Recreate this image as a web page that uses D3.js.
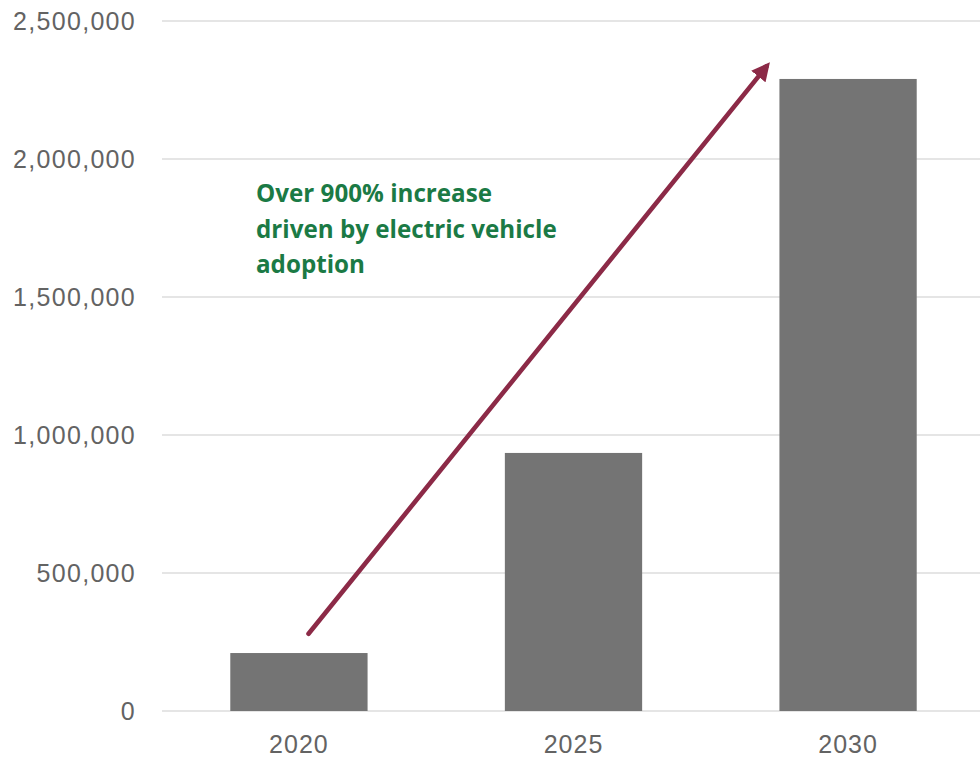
<!DOCTYPE html>
<html>
<head>
<meta charset="utf-8">
<script src="https://cdn.jsdelivr.net/npm/d3@7"></script>
<style>
  html, body { margin: 0; padding: 0; background: #fff; }
  svg { display: block; }
</style>
</head>
<body>
<svg id="chart" width="980" height="758"></svg>
<script>
const categories = ["2020", "2025", "2030"];
const values = [210000, 935000, 2290000];
const yTicks = [0, 500000, 1000000, 1500000, 2000000, 2500000];
const annotationLines = ["Over 900% increase", "driven by electric vehicle", "adoption"];
const arrowValues = [280000, 2335000];

const svg = d3.select("#chart");
const W = 980, H = 758;

const y = d3.scaleLinear().domain([0, 2500000]).range([711, 21]);
const x = d3.scaleBand().domain(categories).range([93, 1054]).paddingInner(0.5).paddingOuter(0.5);

// gridlines
svg.append("g").selectAll("line").data(yTicks).join("line")
  .attr("x1", 162).attr("x2", W)
  .attr("y1", d => y(d)).attr("y2", d => y(d))
  .attr("stroke", "#dcdcdc").attr("stroke-width", 1.5);

// y labels
const fmt = d3.format(",");
svg.append("g").selectAll("text").data(yTicks).join("text")
  .attr("x", 136).attr("y", d => y(d)).attr("dy", "0.36em")
  .attr("text-anchor", "end")
  .attr("font-family", "'Liberation Sans', Arial, sans-serif")
  .attr("font-size", 25).attr("letter-spacing", 1.3)
  .attr("fill", "#636363")
  .text(d => fmt(d));

// bars
svg.append("g").selectAll("rect").data(categories).join("rect")
  .attr("x", d => x(d)).attr("width", x.bandwidth())
  .attr("y", (d, i) => y(values[i]))
  .attr("height", (d, i) => y(0) - y(values[i]))
  .attr("fill", "#747474");

// x labels
svg.append("g").selectAll("text").data(categories).join("text")
  .attr("x", d => x(d) + x.bandwidth() / 2).attr("y", 753)
  .attr("text-anchor", "middle")
  .attr("font-family", "'Liberation Sans', Arial, sans-serif")
  .attr("font-size", 25).attr("letter-spacing", 1)
  .attr("fill", "#636363")
  .text(d => d);

// arrow
const defs = svg.append("defs");
defs.append("marker").attr("id", "ah")
  .attr("viewBox", "0 0 10 10").attr("refX", 7).attr("refY", 5)
  .attr("markerWidth", 4).attr("markerHeight", 4)
  .attr("orient", "auto")
  .append("path").attr("d", "M0,0 L10,5 L0,10 Z").attr("fill", "#8c2a47");

const ax1 = x("2020") + x.bandwidth() * 0.57;
const ax2 = x("2030") - 13;
svg.append("line")
  .attr("x1", ax1).attr("y1", y(arrowValues[0]))
  .attr("x2", ax2).attr("y2", y(arrowValues[1]))
  .attr("stroke", "#8c2a47").attr("stroke-width", 4.6)
  .attr("stroke-linecap", "round")
  .attr("marker-end", "url(#ah)");

// annotation text
svg.append("g").selectAll("text").data(annotationLines).join("text")
  .attr("x", 256).attr("y", (d, i) => 202 + i * 35.5)
  .attr("font-family", "'Open Sans', Lato, sans-serif")
  .attr("font-weight", "bold")
  .attr("font-size", 24.2)
  .attr("fill", "#1b7a45")
  .text(d => d);
</script>
</body>
</html>
